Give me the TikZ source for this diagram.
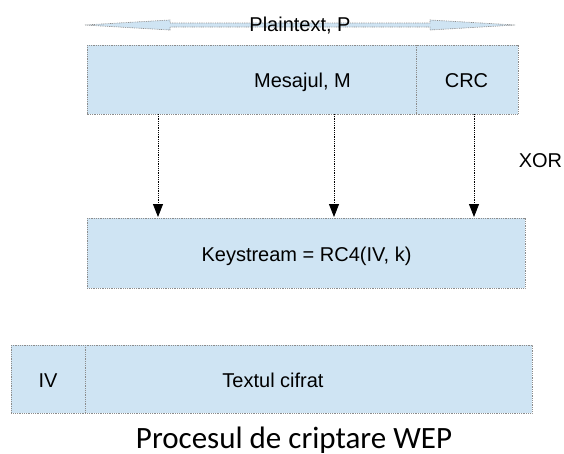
\documentclass[tikz,border=0pt]{standalone}
\usepackage{fontspec}
\setmainfont{Liberation Sans}
\newfontfamily\titlefont{Carlito}
\usetikzlibrary{arrows.meta}
\definecolor{cellblue}{RGB}{207,228,243}
\definecolor{edgegray}{RGB}{140,140,140}
\tikzset{
  finedots/.style={dash pattern=on 0.9pt off 0.9pt},
  cell/.style={draw=edgegray, finedots, fill=cellblue, line width=0.7pt},
  sep/.style={draw=edgegray, finedots, line width=0.7pt},
  label/.style={font=\fontsize{20}{22}\selectfont, inner sep=0pt, anchor=base},
  flow/.style={finedots, line width=0.8pt, -{Triangle[width=10pt,length=13pt]}},
}
\begin{document}
\begin{tikzpicture}[x=1pt, y=-1pt]
\useasboundingbox (0,0) rectangle (564,453);

% plaintext span: thin double-headed block arrow
\draw[cell] (85,25) -- (170,20) -- (170,23) -- (430,23) -- (430,20) -- (515,25)
  -- (430,30) -- (430,27) -- (170,27) -- (170,30) -- cycle;
\node[label] (pt) at (300,31) {Plaintext, P};

% message and CRC
\draw[cell] (87,45) rectangle (518,114);
\draw[sep] (416,45) -- (416,114);
\node[label] (msg) at (302.5,87) {Mesajul, M};
\node[label] (crc) at (466.5,87) {CRC};
\coordinate (m1) at (158,114);
\coordinate (m2) at (334,114);
\coordinate (m3) at (474,114);

\node[label] (xor) at (540.5,167) {XOR};

% keystream
\draw[cell] (87,218) rectangle (525,288);
\node[label] (ks) at (306.5,261) {Keystream = RC4(IV, k)};
\coordinate (k1) at (158,217);
\coordinate (k2) at (334,217);
\coordinate (k3) at (474,217);

\draw[flow] (m1) -- (k1);
\draw[flow] (m2) -- (k2);
\draw[flow] (m3) -- (k3);

% ciphertext frame
\draw[cell] (11,345) rectangle (532,413);
\draw[sep] (85,345) -- (85,413);
\node[label] (iv) at (48,387) {IV};
\node[label] (ct) at (273,387) {Textul cifrat};

\node[font=\titlefont\fontsize{31}{34}\selectfont, inner sep=0pt, anchor=base] (title) at (294,448) {Procesul de criptare WEP};
\end{tikzpicture}
\end{document}
